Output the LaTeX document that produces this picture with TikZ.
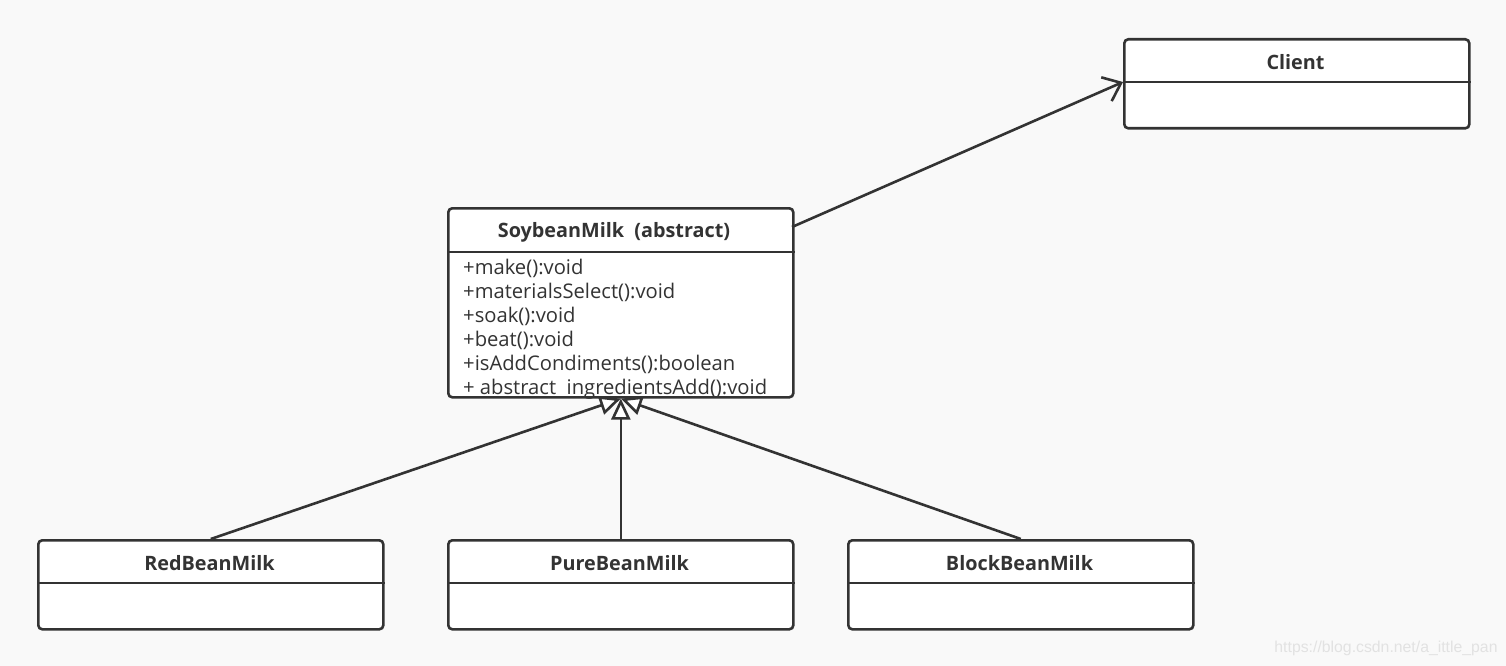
\documentclass[tikz,border=0pt]{standalone}
\usepackage{fontspec}
\setmainfont{Open Sans}[BoldFont={* Bold}]
\newfontfamily\markfont{Liberation Sans}
\usetikzlibrary{arrows.meta}
\definecolor{ink}{HTML}{333333}
\definecolor{paper}{HTML}{F9F9F9}
\definecolor{faint}{HTML}{E2E2E2}
\begin{document}
\begin{tikzpicture}[x=1pt,y=-1pt,
  classbox/.style={draw=ink, line width=2.6pt, rounded corners=4pt, fill=white,
    minimum width=345pt, inner sep=0pt, anchor=north west},
  classname/.style={text=ink, font=\bfseries\fontsize{19.8}{22}\selectfont, inner sep=0pt},
  member/.style={text=ink, font=\fontsize{20.2}{24}\selectfont, inner sep=0pt, anchor=base west},
  sepline/.style={draw=ink, line width=2.6pt},
  link/.style={draw=ink, line width=2.6pt},
  assoc/.style={link, -{Straight Barb[length=16pt,width=26pt,line width=2.6pt]}},
  inherit/.style={link, -{Triangle[length=21pt,width=19pt,fill=white,line width=2.6pt]}}]

% canvas
\fill[paper] (0,0) rectangle (1506,666);
\useasboundingbox (0,0) rectangle (1506,666);

% class boxes
\node[classbox, minimum height=89pt] (client) at (1123,38) {};
\node[classbox, minimum height=189pt] (soy) at (447,207) {};
\node[classbox, minimum height=89pt] (red) at (37,539) {};
\node[classbox, minimum height=89pt] (pure) at (447,539) {};
\node[classbox, minimum height=89pt] (block) at (847,539) {};

% name compartments
\coordinate (clientsep) at (1123,82);
\coordinate (soysep) at (447,252);
\coordinate (redsep) at (37,583);
\coordinate (puresep) at (447,583);
\coordinate (blocksep) at (847,583);
\draw[sepline] (client.west |- clientsep) -- (client.east |- clientsep);
\draw[sepline] (soy.west |- soysep) -- (soy.east |- soysep);
\draw[sepline] (red.west |- redsep) -- (red.east |- redsep);
\draw[sepline] (pure.west |- puresep) -- (pure.east |- puresep);
\draw[sepline] (block.west |- blocksep) -- (block.east |- blocksep);

\node[classname] (clientname) at (1295.5,62.5) {Client};
\node[classname] (soyname) at (614,232.5) {SoybeanMilk\ \ (abstract)};
\node[classname] (redname) at (209.5,563.5) {RedBeanMilk};
\node[classname] (purename) at (619.5,563.5) {PureBeanMilk};
\node[classname] (blockname) at (1019.5,563.5) {BlockBeanMilk};

% operations of SoybeanMilk
\node[member] (m1) at (463,274) {+make():void};
\node[member] (m2) at (463,298) {+materialsSelect():void};
\node[member] (m3) at (463,322) {+soak():void};
\node[member] (m4) at (463,346) {+beat():void};
\node[member] (m5) at (463,370) {+isAddCondiments():boolean};
\node[member] (m6) at (463,394) {+\ abstract\ \ ingredientsAdd():void};

% association to Client
\coordinate (assocstart) at (792,227);
\draw[assoc] (assocstart) -- (client.west |- clientsep);

% generalisations
\draw[inherit] (red.north) -- (soy.south);
\draw[inherit] (block.north) -- (soy.south);
\draw[inherit] (pure.north) -- (soy.south);

% watermark
\node[text=faint, font=\markfont\fontsize{15.8}{18}\selectfont, inner sep=0pt] (mark) at (1386,648) {https://blog.csdn.net/a\_ittle\_pan};
\end{tikzpicture}
\end{document}
